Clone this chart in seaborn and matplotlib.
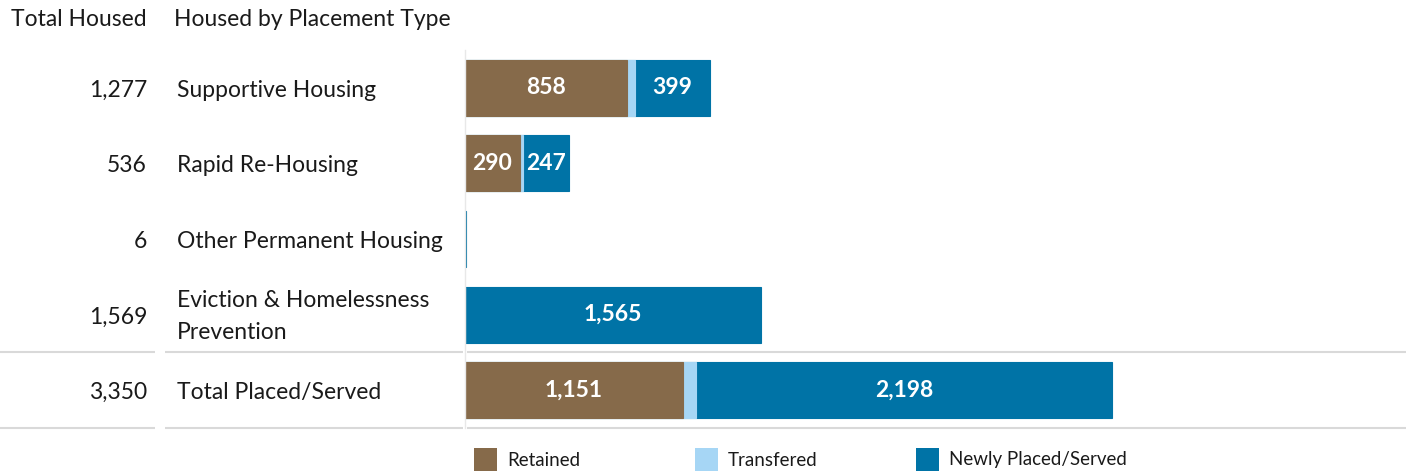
import matplotlib
matplotlib.use("Agg")
import matplotlib.pyplot as plt
import matplotlib.transforms as mtransforms
from matplotlib.patches import Rectangle
import pandas as pd
import seaborn as sns

categories = ["Supportive Housing", "Rapid Re-Housing", "Other Permanent Housing",
              "Eviction & Homelessness\nPrevention", "Total Placed/Served"]
total_housed = ["1,277", "536", "6", "1,569", "3,350"]
retained = [858, 290, 0, 0, 1151]
transfered = [40, 15, 0, 0, 70]
newly_placed = [399, 247, 6, 1565, 2198]

BROWN = "#866A4A"
LIGHT = "#A6D6F5"
BLUE = "#0073A6"
GRID = "#d9d9d9"
TEXT = "#1a1a1a"

sns.set_style("white")
plt.rcParams["font.family"] = ["Lato", "DejaVu Sans"]

df = pd.DataFrame({"category": categories, "retained": retained,
                   "transfered": transfered, "newly": newly_placed})
df["cum_transfer"] = df["retained"] + df["transfered"]
df["cum_newly"] = df["cum_transfer"] + df["newly"]

W, H = 1406, 472
fig = plt.figure(figsize=(W / 100, H / 100), dpi=100)
ax = fig.add_axes([465 / W, 1 - 428 / H, 1 - 465 / W, 378 / H])

# stacked bars: draw the cumulative totals back to front
for col, color in [("cum_newly", BLUE), ("cum_transfer", LIGHT), ("retained", BROWN)]:
    sns.barplot(data=df, x=col, y="category", orient="h", color=color, saturation=1,
                width=0.74, linewidth=0.8, edgecolor=color, errorbar=None, ax=ax)

ax.set_xlim(0, 4973)
ax.set_ylim(4.5, -0.5)
ax.set_xlabel("")
ax.set_ylabel("")
ax.set_xticks([])
ax.set_yticks([])
for side in ["top", "right", "bottom"]:
    ax.spines[side].set_visible(False)
ax.spines["left"].set_color("#e8e8e8")
ax.spines["left"].set_linewidth(1)

# value labels inside the segments
for i, row in df.iterrows():
    for left, w in [(0, row["retained"]), (row["cum_transfer"], row["newly"])]:
        if w >= 200:
            ax.text(left + w / 2, i, f"{w:,}", ha="center", va="center",
                    color="white", fontweight="bold", fontsize=16.5)

# left-hand table columns
trans = mtransforms.blended_transform_factory(fig.transFigure, ax.transData)
for i in range(len(categories)):
    ax.text(147 / W, i + 0.03, total_housed[i], ha="right", va="center", fontsize=16.5,
            color=TEXT, transform=trans, clip_on=False)
    ax.text(177 / W, i + 0.03, categories[i], ha="left", va="center", fontsize=16.5,
            color=TEXT, transform=trans, clip_on=False, linespacing=1.65)

fig.text(147 / W, 1 - 19 / H, "Total Housed", ha="right", va="center",
         fontsize=16.5, color=TEXT)
fig.text(174 / W, 1 - 19 / H, "Housed by Placement Type", ha="left", va="center",
         fontsize=16.5, color=TEXT)

# separator lines above and below the total row
for yv in [3.5, 4.5]:
    for x0, x1 in [(0, 155), (165, 463), (467, W)]:
        ax.plot([x0 / W, x1 / W], [yv, yv], color=GRID, lw=1.5, transform=trans,
                clip_on=False, solid_capstyle="butt")

# legend
legend_items = [("Retained", BROWN, 474), ("Transfered", LIGHT, 695),
                ("Newly Placed/Served", BLUE, 916)]
for label, color, x in legend_items:
    fig.patches.append(Rectangle((x / W, 1 - 471 / H), 23 / W, 23 / H,
                                 transform=fig.transFigure, color=color, lw=0))
    fig.text((x + 33) / W, 1 - 460 / H, label, ha="left", va="center",
             fontsize=13.5, color=TEXT)

fig.savefig("out.png", dpi=100, facecolor="white")
